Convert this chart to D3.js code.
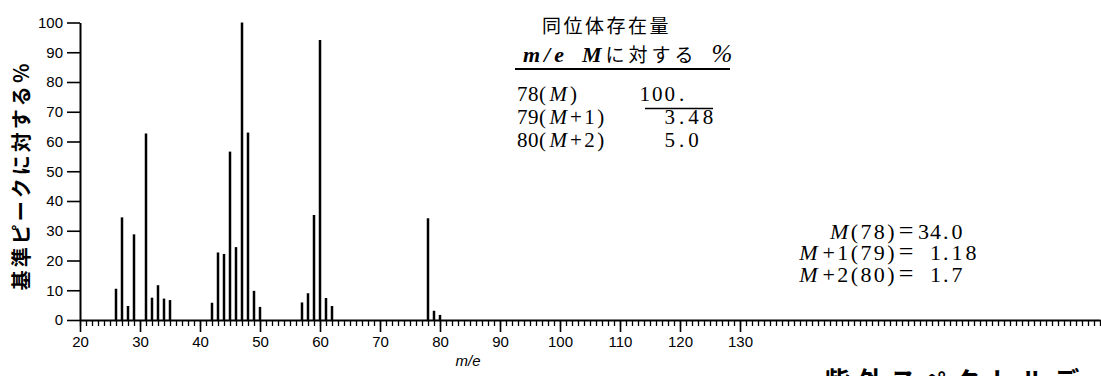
<!DOCTYPE html>
<html>
<head>
<meta charset="utf-8">
<script src="https://cdn.jsdelivr.net/npm/d3@7"></script>
<style>
  body { margin: 0; background: #fff; }
  svg { display: block; }
  svg text { fill: #000; }
</style>
</head>
<body>
<div id="chart"></div>
<script>
// peak positions (m/e) and relative intensity (% of base peak)
var mz = [26, 27, 28, 29, 31, 32, 33, 34, 35,
  42, 43, 44, 45, 46, 47, 48, 49, 50,
  57, 58, 59, 60, 61, 62,
  78, 79, 80];
var intensity = [10.5, 34.5, 4.7, 28.8, 62.7, 7.5, 11.7, 7.2, 6.7,
  5.8, 22.7, 22.2, 56.6, 24.5, 100, 63, 9.8, 4.4,
  5.9, 9, 35.3, 94.1, 7.4, 4.7,
  34.2, 3.1, 1.7];

// axis tick labels
var xTicks = [20, 30, 40, 50, 60, 70, 80, 90, 100, 110, 120, 130];
var yTicks = [0, 10, 20, 30, 40, 50, 60, 70, 80, 90, 100];

// isotope abundance table
var isoMass = ["78", "79", "80"];
var isoIon = ["M", "M+1", "M+2"];
var isoPct = ["100.", "3.48", "5.0"];

// calculated values, right hand side
var calcIon = ["M", "M+1", "M+2"];
var calcMass = ["78", "79", "80"];
var calcVal = ["34.0", "1.18", "1.7"];

var width = 1101, height = 376;
var sans = "'Liberation Sans', Arial, sans-serif";
var serif = "'Liberation Serif', 'Times New Roman', 'Noto Sans CJK JP', serif";
var cjk = "'Noto Sans CJK JP', sans-serif";

var svg = d3.select("#chart").append("svg")
  .attr("width", width)
  .attr("height", height);

// scales
var x = d3.scaleLinear().domain([20, 190]).range([80, 1100]);
var y = d3.scaleLinear().domain([0, 100]).range([320, 22.5]);

// minor ticks every unit along the x axis
svg.append("g")
  .attr("transform", "translate(0," + y(0) + ")")
  .call(d3.axisBottom(x).tickValues(d3.range(20, 191)).tickSize(6).tickFormat(""))
  .call(function (g) { g.select(".domain").remove(); })
  .selectAll("line").attr("stroke-width", 1.3);

// major x axis
var xAxis = svg.append("g")
  .attr("transform", "translate(0," + y(0) + ")")
  .call(d3.axisBottom(x).tickValues(xTicks).tickSize(12).tickSizeOuter(0).tickPadding(4));
xAxis.select(".domain").attr("stroke-width", 2);
xAxis.selectAll("line").attr("stroke-width", 1.6);
xAxis.selectAll("text")
  .style("font-family", sans)
  .style("font-size", "15px");

// y axis
var yAxis = svg.append("g")
  .attr("transform", "translate(" + x(20) + ",0)")
  .call(d3.axisLeft(y).tickValues(yTicks).tickSize(13).tickSizeOuter(0).tickPadding(4));
yAxis.select(".domain").attr("stroke-width", 2);
yAxis.selectAll("line").attr("stroke-width", 1.6);
yAxis.selectAll("text")
  .style("font-family", sans)
  .style("font-size", "15px");

// spectrum lines
svg.selectAll(".peak")
  .data(mz)
  .enter().append("line")
  .attr("class", "peak")
  .attr("x1", function (d) { return x(d); })
  .attr("x2", function (d) { return x(d); })
  .attr("y1", y(0))
  .attr("y2", function (d, i) { return y(intensity[i]); })
  .attr("stroke", "#000")
  .attr("stroke-width", 2.5);

// axis titles
svg.append("text")
  .attr("transform", "translate(20," + ((y(0) + y(100)) / 2 + 4) + ") rotate(-90)")
  .attr("text-anchor", "middle")
  .attr("dominant-baseline", "central")
  .style("font-family", cjk)
  .style("font-size", "20px")
  .style("font-weight", "bold")
  .style("letter-spacing", "3px")
  .text("基準ピークに対する％");

svg.append("text")
  .attr("x", 468)
  .attr("y", 366)
  .attr("text-anchor", "middle")
  .style("font-family", sans)
  .style("font-size", "15px")
  .style("font-style", "italic")
  .text("m/e");

// isotope table
svg.append("text")
  .attr("x", 542)
  .attr("y", 33)
  .style("font-family", cjk)
  .style("font-size", "19px")
  .style("letter-spacing", "2.5px")
  .text("同位体存在量");

var head = svg.append("text")
  .attr("x", 523)
  .attr("y", 62)
  .style("font-family", serif)
  .style("font-size", "22px");
head.append("tspan").style("font-style", "italic").style("font-weight", "bold")
  .style("letter-spacing", "4px").text("m/e");
head.append("tspan").attr("x", 582).style("font-style", "italic").style("font-weight", "bold").text("M");
head.append("tspan").attr("dx", 4).style("font-family", cjk).style("font-size", "19px")
  .style("letter-spacing", "4px").text("に対する");
head.append("tspan").attr("dx", 14).style("font-style", "italic")
  .style("font-size", "25px").text("%");

svg.append("line")
  .attr("x1", 515).attr("x2", 730)
  .attr("y1", 69).attr("y2", 69)
  .attr("stroke", "#000").attr("stroke-width", 2);

var rowY = [101, 124, 147];
isoMass.forEach(function (m, i) {
  var t = svg.append("text")
    .attr("x", 517)
    .attr("y", rowY[i])
    .style("font-family", serif)
    .style("font-size", "21px")
    .style("letter-spacing", "0.5px");
  t.append("tspan").text(m + "(");
  t.append("tspan").attr("dx", 3).style("font-style", "italic")
    .style("letter-spacing", "3px").text(isoIon[i].slice(0, 1));
  t.append("tspan").style("letter-spacing", "2.5px").text(isoIon[i].slice(1) + ")");

  // decimal aligned percentage
  var parts = isoPct[i].split(".");
  svg.append("text")
    .attr("x", 677).attr("y", rowY[i])
    .attr("text-anchor", "end")
    .style("font-family", serif).style("font-size", "21px")
    .style("letter-spacing", "2px")
    .text(parts[0]);
  svg.append("text")
    .attr("x", 679).attr("y", rowY[i])
    .style("font-family", serif).style("font-size", "21px")
    .style("letter-spacing", "4px")
    .text("." + parts[1]);
});

svg.append("line")
  .attr("x1", 645).attr("x2", 713)
  .attr("y1", 108.5).attr("y2", 108.5)
  .attr("stroke", "#000").attr("stroke-width", 1.5);

// calculated intensities
var calcY = [239, 260, 282];
calcIon.forEach(function (c, i) {
  var t = svg.append("text")
    .attr("x", 897)
    .attr("y", calcY[i])
    .attr("text-anchor", "end")
    .style("font-family", serif)
    .style("font-size", "22px")
    .style("letter-spacing", "2.4px");
  t.append("tspan").style("font-style", "italic")
    .style("letter-spacing", c.length > 1 ? "5px" : "2.4px").text(c.slice(0, 1));
  t.append("tspan").text(c.slice(1) + "(" + calcMass[i] + ")");

  svg.append("text")
    .attr("x", 906).attr("y", calcY[i])
    .attr("text-anchor", "middle")
    .style("font-family", serif).style("font-size", "26px")
    .text("=");

  var parts = calcVal[i].split(".");
  svg.append("text")
    .attr("x", 942).attr("y", calcY[i])
    .attr("text-anchor", "end")
    .style("font-family", serif).style("font-size", "22px")
    .style("letter-spacing", "1px")
    .text(parts[0]);
  svg.append("text")
    .attr("x", 943).attr("y", calcY[i])
    .style("font-family", serif).style("font-size", "22px")
    .style("letter-spacing", "3px")
    .text("." + parts[1]);
});

// next section heading, cut off at the bottom edge
svg.append("text")
  .attr("x", 824)
  .attr("y", 391)
  .style("font-family", cjk)
  .style("font-size", "26px")
  .style("font-weight", "bold")
  .style("letter-spacing", "7px")
  .text("紫外スペクトルデータ");
</script>
</body>
</html>
